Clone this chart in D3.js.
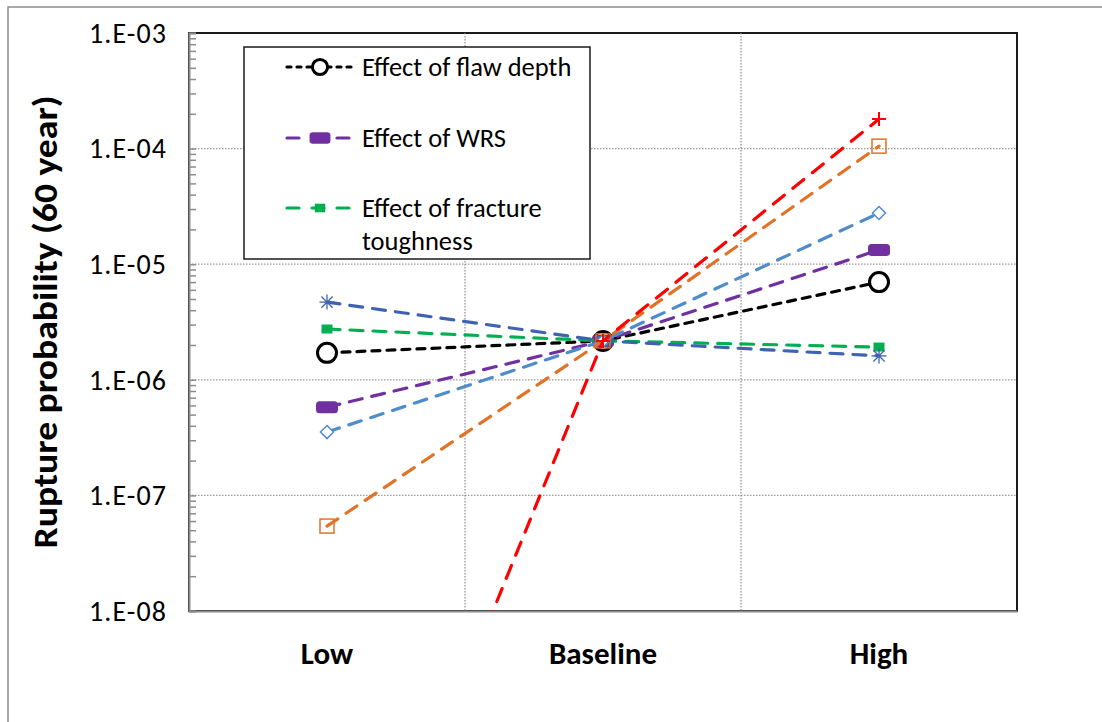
<!DOCTYPE html>
<html>
<head>
<meta charset="utf-8">
<script src="https://cdn.jsdelivr.net/npm/d3@7"></script>
<style>
  html, body { margin: 0; padding: 0; background: #fff; }
  svg { display: block; }
  text { font-family: Carlito, Calibri, "Open Sans", "Liberation Sans", sans-serif; }
</style>
</head>
<body>
<svg id="chart" width="1102" height="722"></svg>
<script>
// Scenario categories along the x axis
const categories = ["Low", "Baseline", "High"];

// 60-year rupture probability for each sensitivity case
const flawDepth    = [1.71e-6, 2.17e-6, 7.0e-6];
const wrs          = [5.8e-7,  2.17e-6, 1.33e-5];
const toughness    = [2.75e-6, 2.17e-6, 1.92e-6];
const caseStar     = [4.7e-6,  2.17e-6, 1.61e-6];
const caseDiamond  = [3.53e-7, 2.17e-6, 2.77e-5];
const caseSquare   = [5.43e-8, 2.17e-6, 1.05e-4];
const casePlus     = [3.0e-12, 2.17e-6, 1.8e-4];

// Axis ticks
const yTickValues = [1e-8, 1e-7, 1e-6, 1e-5, 1e-4, 1e-3];
const yTickLabels = ["1.E-08", "1.E-07", "1.E-06", "1.E-05", "1.E-04", "1.E-03"];

const legendNames = ["Effect of flaw depth", "Effect of WRS", "Effect of fracture toughness"];

const series = [
  { values: flawDepth,   color: "#000000", dash: "8,7",   marker: "circle" },
  { values: wrs,         color: "#7030A0", dash: "13,10", marker: "bar" },
  { values: toughness,   color: "#00B050", dash: "13,10", marker: "smallsquare" },
  { values: caseStar,    color: "#3F63B0", dash: "13,10", marker: "star" },
  { values: caseDiamond, color: "#4F8CCB", dash: "13,10", marker: "diamond" },
  { values: caseSquare,  color: "#E07328", dash: "13,10", marker: "square" },
  { values: casePlus,    color: "#FF0000", dash: "14,11", marker: "plus" }
];

const svg = d3.select("#chart");
const plot = { left: 189, right: 1017, top: 33, bottom: 611 };

// Outer chart frame
svg.append("rect")
  .attr("x", 8).attr("y", 7).attr("width", 1110).attr("height", 730)
  .attr("fill", "#fff").attr("stroke", "#8c8c8c").attr("stroke-width", 1.5);

const x = d3.scaleBand().domain(categories).range([plot.left, plot.right]);
const y = d3.scaleLog().domain([1e-8, 1e-3]).range([plot.bottom, plot.top]);

// Plot area frame
svg.append("rect")
  .attr("x", plot.left).attr("y", plot.top)
  .attr("width", plot.right - plot.left).attr("height", plot.bottom - plot.top)
  .attr("fill", "#fff").attr("stroke", "#1a1a1a").attr("stroke-width", 2);

// Horizontal gridlines (decades)
svg.append("g").selectAll("line")
  .data(yTickValues.slice(1, -1))
  .join("line")
  .attr("x1", plot.left).attr("x2", plot.right)
  .attr("y1", d => y(d)).attr("y2", d => y(d))
  .attr("stroke", "#9a9a9a").attr("stroke-width", 1.2)
  .attr("stroke-dasharray", "1.5,1.5");

// Vertical gridlines between categories
svg.append("g").selectAll("line")
  .data(categories.slice(1))
  .join("line")
  .attr("x1", d => x(d)).attr("x2", d => x(d))
  .attr("y1", plot.top).attr("y2", plot.bottom)
  .attr("stroke", "#8a8a8a").attr("stroke-width", 1.2)
  .attr("stroke-dasharray", "1.5,1.5");

// Left axis: decade labels plus inward minor ticks
const minorTicks = [];
for (let e = -8; e < -3; e++) {
  for (let m = 1; m <= 9; m++) minorTicks.push(m * Math.pow(10, e));
}
minorTicks.push(1e-3);
const yAxis = d3.axisLeft(y)
  .tickValues(minorTicks)
  .tickSize(-7)
  .tickFormat(() => "");
const gy = svg.append("g").attr("transform", `translate(${plot.left},0)`).call(yAxis);
gy.select(".domain").attr("stroke", "#8c8c8c").attr("stroke-width", 2);
gy.selectAll(".tick line").attr("stroke", "#8c8c8c").attr("stroke-width", 1.5);

svg.append("g").selectAll("text")
  .data(yTickValues)
  .join("text")
  .attr("x", 166).attr("y", d => y(d))
  .attr("dy", "0.35em")
  .attr("text-anchor", "end")
  .attr("font-size", 28)
  .attr("textLength", 77).attr("lengthAdjust", "spacing")
  .attr("fill", "#000")
  .text((d, i) => yTickLabels[i]);

// Bottom axis
const xAxis = d3.axisBottom(x).tickSize(0).tickFormat(() => "");
const gx = svg.append("g").attr("transform", `translate(0,${plot.bottom})`).call(xAxis);
gx.select(".domain").attr("stroke", "#8c8c8c").attr("stroke-width", 2);

svg.append("g").selectAll("text")
  .data(categories)
  .join("text")
  .attr("x", d => x(d) + x.bandwidth() / 2)
  .attr("y", 653).attr("dy", "0.35em")
  .attr("text-anchor", "middle")
  .attr("font-size", 31).attr("font-weight", "bold")
  .text(d => d);

// Y-axis title
svg.append("text")
  .attr("transform", "translate(45,322) rotate(-90)")
  .attr("text-anchor", "middle").attr("dy", "0.35em")
  .attr("font-size", 35).attr("font-weight", "bold")
  .attr("textLength", 453).attr("lengthAdjust", "spacingAndGlyphs")
  .text("Rupture probability (60 year)");

// Marker drawing
function drawMarker(g, type, color, scale) {
  const s = scale || 1;
  switch (type) {
    case "circle":
      g.append("circle").attr("r", 9.5 * s).attr("fill", "#fff")
        .attr("stroke", color).attr("stroke-width", 3);
      break;
    case "bar":
      g.append("rect").attr("x", -11 * s).attr("y", -6 * s)
        .attr("width", 22 * s).attr("height", 12 * s)
        .attr("rx", 3.5 * s).attr("fill", color);
      break;
    case "smallsquare":
      g.append("rect").attr("x", -5.5 * s).attr("y", -4.5 * s)
        .attr("width", 11 * s).attr("height", 9 * s).attr("fill", color);
      break;
    case "star": {
      const r = 7.5 * s;
      const p = [[-r, 0, r, 0], [0, -r, 0, r], [-r * 0.75, -r * 0.75, r * 0.75, r * 0.75], [-r * 0.75, r * 0.75, r * 0.75, -r * 0.75]];
      g.selectAll("line").data(p).join("line")
        .attr("x1", d => d[0]).attr("y1", d => d[1]).attr("x2", d => d[2]).attr("y2", d => d[3])
        .attr("stroke", color).attr("stroke-width", 1.3);
      break;
    }
    case "diamond": {
      const r = 6.5 * s;
      g.append("path").attr("d", `M0,${-r}L${r},0L0,${r}L${-r},0Z`)
        .attr("fill", "#fff").attr("stroke", color).attr("stroke-width", 1.5);
      break;
    }
    case "square": {
      const r = 7 * s;
      g.append("rect").attr("x", -r).attr("y", -r).attr("width", 2 * r).attr("height", 2 * r)
        .attr("fill", "none").attr("stroke", color).attr("stroke-width", 1.5);
      break;
    }
    case "plus": {
      const r = 7 * s;
      g.append("path").attr("d", `M${-r},0H${r}M0,${-r}V${r}`)
        .attr("stroke", color).attr("stroke-width", 2);
      break;
    }
  }
}

// Clip data marks to the plot area
svg.append("clipPath").attr("id", "plot-clip")
  .append("rect")
  .attr("x", plot.left).attr("y", plot.top)
  .attr("width", plot.right - plot.left).attr("height", plot.bottom - plot.top);

const marks = svg.append("g").attr("clip-path", "url(#plot-clip)");
const line = d3.line()
  .x((d, i) => x(categories[i]) + x.bandwidth() / 2)
  .y(d => y(d));

series.forEach(s => {
  const g = marks.append("g");
  g.append("path")
    .attr("d", line(s.values))
    .attr("fill", "none")
    .attr("stroke", s.color)
    .attr("stroke-width", 3.2)
    .attr("stroke-linecap", "round")
    .attr("stroke-dasharray", s.dash);
  s.values.forEach((v, i) => {
    const cx = x(categories[i]) + x.bandwidth() / 2;
    const cy = y(v);
    if (cy > plot.bottom + 20) return;
    const mg = g.append("g").attr("transform", `translate(${cx},${cy})`);
    drawMarker(mg, s.marker, s.color, 1);
  });
});

// Legend
const legend = svg.append("g");
legend.append("rect")
  .attr("x", 244).attr("y", 47).attr("width", 346).attr("height", 212)
  .attr("fill", "#fff").attr("stroke", "#1a1a1a").attr("stroke-width", 1.5);

const legendRows = [67, 138, 208];
series.slice(0, 3).forEach((s, i) => {
  const ly = legendRows[i];
  const g = legend.append("g");
  g.append("line")
    .attr("x1", 287).attr("x2", 353).attr("y1", ly).attr("y2", ly)
    .attr("stroke", s.color).attr("stroke-width", 3.2)
    .attr("stroke-linecap", "round")
    .attr("stroke-dasharray", i === 0 ? "4,6" : "12,13");
  const mg = g.append("g").attr("transform", `translate(320,${ly})`);
  drawMarker(mg, s.marker, s.color, i === 0 ? 0.8 : 0.95);
});

const legendText = legend.append("g")
  .attr("font-size", 26.5).attr("fill", "#000");
legendText.append("text").attr("x", 362).attr("y", legendRows[0]).attr("dy", "0.35em").text(legendNames[0]);
legendText.append("text").attr("x", 362).attr("y", legendRows[1]).attr("dy", "0.35em").text(legendNames[1]);
const ft = legendText.append("text").attr("x", 362).attr("y", legendRows[2]).attr("dy", "0.35em");
ft.append("tspan").attr("x", 362).text("Effect of fracture");
ft.append("tspan").attr("x", 362).attr("dy", "1.22em").text("toughness");
</script>
</body>
</html>
